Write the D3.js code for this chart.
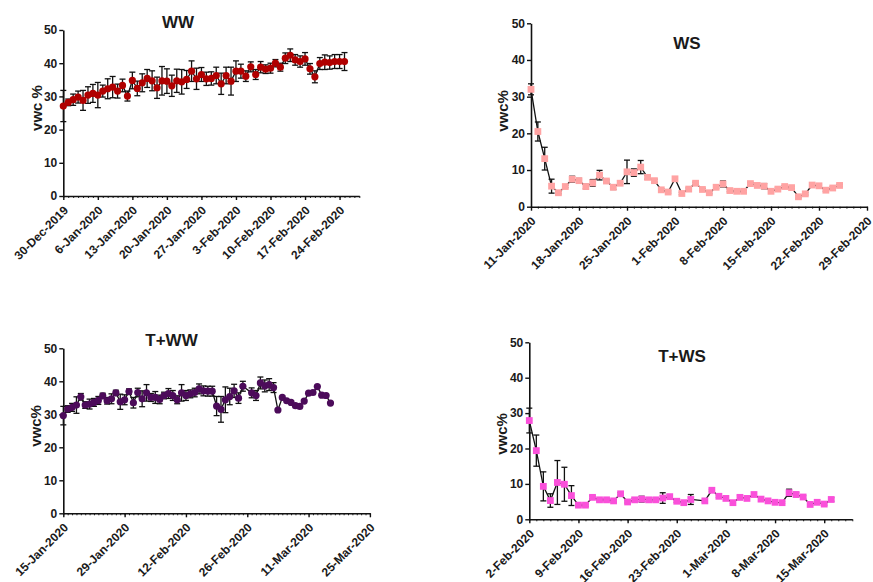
<!DOCTYPE html>
<html>
<head>
<meta charset="utf-8">
<script src="https://cdn.jsdelivr.net/npm/d3@7"></script>
<style>
  body { margin: 0; background: #fff; }
  text { font-family: Arial, "Liberation Sans", sans-serif; font-weight: bold; fill: #1a1a1a; }
</style>
</head>
<body>
<div id="chart"></div>
<script>
// ---- data (daily means and SD; null = no reading that day)
const wwStart = "30-Dec-2019";
const wwMean = [27.1, 28.2, 29.0, 29.8, 28.8, 30.4, 30.9, 30.4, 31.6, 32.3,
  32.8, 31.6, 33.3, 30.1, 34.8, 32.4, 34.1, 35.4, 34.7, 32.6,
  34.7, 34.6, 33.2, 34.7, 34.4, 35.1, 37.6, 35.3, 36.6, 35.3,
  35.4, 36.3, 33.8, 36.3, 34.6, 37.6, 37.6, 36.1, 38.9, 36.6,
  38.8, 38.2, 38.5, 40.0, 38.8, 41.5, 42.4, 41.0, 40.5, 41.3,
  38.3, 35.9, 39.9, 40.3, 40.2, 40.5, 40.5, 40.5];
const wwSD = [4.7, 1.0, 1.7, 1.8, 3.0, 2.5, 2.7, 3.8, 1.8, 3.0,
  3.2, 2.1, 1.9, 1.5, 2.5, 2.2, 2.7, 2.7, 3.0, 3.2,
  4.3, 3.7, 3.2, 3.5, 3.7, 2.7, 3.1, 3.2, 2.1, 2.0,
  2.0, 2.5, 3.2, 2.5, 4.2, 3.1, 2.1, 1.6, 1.5, 1.5,
  1.7, 1.3, 1.5, 1.1, 1.2, 1.6, 1.9, 1.6, 1.7, 1.9,
  1.6, 1.8, 1.8, 2.2, 2.0, 2.1, 2.1, 2.7];
const wwTicks = ["30-Dec-2019", "6-Jan-2020", "13-Jan-2020", "20-Jan-2020", "27-Jan-2020",
  "3-Feb-2020", "10-Feb-2020", "17-Feb-2020", "24-Feb-2020"];

const wsStart = "11-Jan-2020";
const wsMean = [32.0, 20.5, 13.1, 5.6, 3.8, 5.5, 7.5, 7.1, 5.5, 6.5,
  8.6, 7.0, 5.3, 6.4, 9.5, 9.3, 10.8, 8.0, 7.1, 4.6,
  4.0, 7.6, 3.6, 4.8, 6.4, 4.7, 3.8, 5.3, 6.2, 4.4,
  4.2, 4.2, 6.3, 5.8, 5.6, 4.2, 4.8, 5.5, 5.2, 2.7,
  3.5, 5.9, 5.7, 4.5, 5.1, 5.8];
const wsSD = [1.5, 2.6, 3.1, 1.9, 0.3, 0.3, 0.8, 0.6, 0.6, 0.9,
  1.3, 0.3, 0.6, 0.3, 3.2, 1.0, 1.8, 0.5, 0.4, 0.3,
  0.3, 0.5, 0.3, 0.3, 0.3, 0.3, 0.3, 0.3, 0.8, 0.3,
  0.3, 0.3, 0.3, 0.3, 0.7, 0.3, 0.3, 0.3, 0.3, 0.3,
  0.3, 0.3, 0.3, 0.3, 0.3, 0.3];
const wsTicks = ["11-Jan-2020", "18-Jan-2020", "25-Jan-2020", "1-Feb-2020",
  "8-Feb-2020", "15-Feb-2020", "22-Feb-2020", "29-Feb-2020"];

const twwStart = "15-Jan-2020";
const twwMean = [29.6, 31.6, 32.1, 32.8, 35.3, 32.8, 33.1, 33.6, 34.2, 35.6,
  34.1, 34.7, 36.5, 33.8, 34.4, 36.9, 33.5, 36.6, 34.7, 36.5,
  35.1, 35.1, 34.5, 35.7, 36.3, 35.7, 34.4, 36.5, 35.7, 36.2,
  36.6, 37.7, 37.1, 37.0, 37.0, 32.5, 31.5, 34.4, 35.4, 37.1,
  34.9, 38.5, null, 36.5, 35.7, 39.5, 38.6, 39.0, 38.1, 31.3,
  35.1, 34.1, 33.6, 32.6, 32.4, 34.0, 36.4, 36.6, 38.4, 35.8,
  35.7, 33.4];
const twwSD = [2.8, 1.0, 1.2, 2.5, 1.0, 1.0, 1.5, 1.2, 1.2, 0.8,
  1.0, 1.5, 0.8, 2.3, 1.5, 0.8, 1.6, 1.3, 2.4, 2.5,
  1.2, 1.8, 1.3, 1.0, 1.5, 1.5, 1.2, 2.5, 1.5, 1.2,
  1.3, 1.5, 1.5, 1.5, 1.5, 2.9, 3.9, 3.9, 2.5, 2.0,
  1.6, 1.5, null, 1.5, 1.5, 1.8, 1.8, 1.8, 1.5, 0,
  0, 0, 0, 0, 0, 0, 0, 0, 0, 0,
  0, 0];
const twwTicks = ["15-Jan-2020", "29-Jan-2020", "12-Feb-2020", "26-Feb-2020",
  "11-Mar-2020", "25-Mar-2020"];

const twsStart = "2-Feb-2020";
const twsMean = [27.9, 19.4, 9.3, 5.3, 10.4, 9.9, 6.7, 4.0, 4.0, 6.2,
  5.5, 5.5, 5.2, 7.2, 4.9, 5.5, 5.7, 5.5, 5.5, 6.0,
  6.4, 5.1, 4.7, 5.6, null, 5.2, 8.2, 6.5, 5.9, 4.7,
  6.2, 5.9, 7.0, 5.7, 5.2, 4.8, 4.7, 7.5, 7.0, 6.3,
  4.2, 4.8, 4.3, 5.6];
const twsSD = [3.5, 4.4, 4.1, 1.9, 6.2, 4.8, 2.8, 0.3, 0.3, 0.4,
  0.3, 0.3, 0.3, 0.3, 0.3, 0.4, 0.8, 0.5, 0.5, 1.5,
  0.5, 0.3, 0.3, 1.4, null, 0.3, 0.3, 0.3, 0.3, 0.3,
  0.6, 0.3, 0.3, 0.3, 0.3, 0.3, 0.3, 1.0, 0.6, 0.4,
  0.3, 0.3, 0.3, 0.5];
const twsTicks = ["2-Feb-2020", "9-Feb-2020", "16-Feb-2020", "23-Feb-2020",
  "1-Mar-2020", "8-Mar-2020", "15-Mar-2020"];

const yTicks = [0, 10, 20, 30, 40, 50];

// ---- setup
const W = 873, H = 582;
const parse = d3.utcParse("%d-%b-%Y");
const fmt = d3.utcFormat("%-d-%b-%Y");

const svg = d3.select("#chart").append("svg")
  .attr("width", W)
  .attr("height", H);

// panel layout (pixel positions only)
const panels = [
  { title: "WW", ylab: "vwc %", start: wwStart, end: "28-Feb-2020", mean: wwMean, sd: wwSD, ticks: wwTicks,
    left: 63.3, top: 30, w: 296, h: 166, shape: "circle", color: "#b00000",
    titleX: 178, titleY: 22, labX: 36.5, labY: 108 },
  { title: "WS", ylab: "vwc%", start: wsStart, end: "29-Feb-2020", mean: wsMean, sd: wsSD, ticks: wsTicks,
    left: 531, top: 23.3, w: 336, h: 183.4, shape: "square", color: "#ffa3a3",
    titleX: 687, titleY: 43.5, labX: 503, labY: 111 },
  { title: "T+WW", ylab: "vwc%", start: twwStart, end: "25-Mar-2020", mean: twwMean, sd: twwSD, ticks: twwTicks,
    left: 63.3, top: 348.3, w: 306.6, h: 165, shape: "circle", color: "#4c0b5a",
    titleX: 171.5, titleY: 340, labX: 36, labY: 426 },
  { title: "T+WS", ylab: "vwc%", start: twsStart, end: "19-Mar-2020", mean: twsMean, sd: twsSD, ticks: twsTicks,
    left: 529.3, top: 342.3, w: 323, h: 177, shape: "square", color: "#fa50da",
    titleX: 682, titleY: 356.5, labX: 502, labY: 434 }
];

panels.forEach(p => {
  const g = svg.append("g");
  const t0 = parse(p.start);

  const x = d3.scaleUtc()
    .domain([t0, parse(p.end)])
    .range([p.left, p.left + p.w]);

  const y = d3.scaleLinear()
    .domain([0, 50])
    .range([p.top + p.h, p.top]);

  const data = p.mean
    .map((v, i) => ({ date: d3.utcDay.offset(t0, i), v: v, sd: p.sd[i] }))
    .filter(d => d.v != null);

  // daily minor ticks
  g.append("g")
    .attr("transform", `translate(0,${y(0)})`)
    .call(d3.axisBottom(x).ticks(d3.utcDay.every(1)).tickSize(2).tickFormat(""))
    .call(a => a.select(".domain").remove())
    .call(a => a.selectAll("line").attr("stroke", "#222").attr("stroke-width", 1));

  // x axis
  const xa = g.append("g")
    .attr("transform", `translate(0,${y(0)})`)
    .call(d3.axisBottom(x)
      .tickValues(p.ticks.map(parse))
      .tickFormat(fmt)
      .tickSize(4)
      .tickSizeOuter(0));
  xa.select(".domain").attr("stroke", "#111").attr("stroke-width", 1.6);
  xa.selectAll("line").attr("stroke", "#111").attr("stroke-width", 1.4);
  xa.selectAll("text")
    .attr("font-size", 12)
    .attr("text-anchor", "end")
    .attr("x", -7)
    .attr("y", 10)
    .attr("dy", "0.35em")
    .attr("transform", "rotate(-45)");

  // y axis
  const ya = g.append("g")
    .attr("transform", `translate(${p.left},0)`)
    .call(d3.axisLeft(y).tickValues(yTicks).tickSize(4).tickPadding(2).tickSizeOuter(0));
  ya.select(".domain").attr("stroke", "#111").attr("stroke-width", 1.6);
  ya.selectAll("line").attr("stroke", "#111").attr("stroke-width", 1.4);
  ya.selectAll("text").attr("font-size", 12);

  // connecting line
  g.append("path")
    .datum(data)
    .attr("fill", "none")
    .attr("stroke", "#111")
    .attr("stroke-width", 1.3)
    .attr("d", d3.line().x(d => x(d.date)).y(d => y(d.v)));

  // error bars
  const eb = g.append("g")
    .attr("stroke", "#111")
    .attr("stroke-width", 1.3)
    .selectAll("g")
    .data(data.filter(d => d.sd > 0))
    .enter()
    .append("g");
  eb.append("line")
    .attr("x1", d => x(d.date)).attr("x2", d => x(d.date))
    .attr("y1", d => y(d.v + d.sd)).attr("y2", d => y(d.v - d.sd));
  eb.append("line")
    .attr("x1", d => x(d.date) - 3).attr("x2", d => x(d.date) + 3)
    .attr("y1", d => y(d.v + d.sd)).attr("y2", d => y(d.v + d.sd));
  eb.append("line")
    .attr("x1", d => x(d.date) - 3).attr("x2", d => x(d.date) + 3)
    .attr("y1", d => y(d.v - d.sd)).attr("y2", d => y(d.v - d.sd));

  // markers
  if (p.shape === "circle") {
    g.selectAll(".pt")
      .data(data)
      .enter()
      .append("circle")
      .attr("cx", d => x(d.date))
      .attr("cy", d => y(d.v))
      .attr("r", 3.6)
      .attr("fill", p.color);
  } else {
    g.selectAll(".pt")
      .data(data)
      .enter()
      .append("rect")
      .attr("x", d => x(d.date) - 3.4)
      .attr("y", d => y(d.v) - 3.4)
      .attr("width", 6.8)
      .attr("height", 6.8)
      .attr("fill", p.color);
  }

  // title
  g.append("text")
    .attr("x", p.titleX)
    .attr("y", p.titleY)
    .attr("dy", "0.35em")
    .attr("text-anchor", "middle")
    .attr("font-size", 17)
    .text(p.title);

  // y label
  g.append("text")
    .attr("transform", `translate(${p.labX},${p.labY}) rotate(-90)`)
    .attr("dy", "0.35em")
    .attr("text-anchor", "middle")
    .attr("font-size", 15)
    .text(p.ylab);
});
</script>
</body>
</html>
